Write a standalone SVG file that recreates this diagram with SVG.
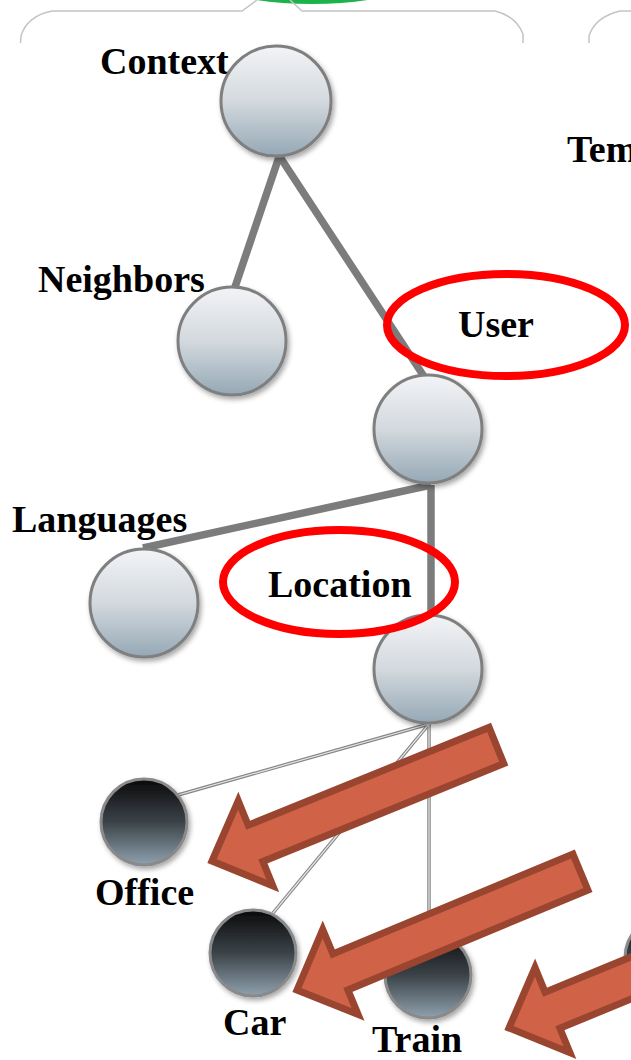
<svg xmlns="http://www.w3.org/2000/svg" width="631" height="1060" viewBox="0 0 631 1060">
  <style>
    .frame { fill: none; stroke: #c4c4c4; stroke-width: 1.5; }
    .label { font-family: "Liberation Serif", "Times New Roman", serif; font-weight: bold; font-size: 38px; fill: #000; }
    .thick { stroke: #7c7c7c; stroke-width: 7.5; stroke-linecap: butt; fill: none; }
    .thin-out { stroke: #858585; stroke-width: 3.5; fill: none; }
    .thin-in { stroke: #e6e6e6; stroke-width: 1.2; fill: none; }
    .light { fill: url(#lightGrad); stroke: #7f7f7f; stroke-width: 3; filter: url(#shadow); }
    .dark { fill: url(#darkGrad); stroke: #8a8a8a; stroke-width: 3; filter: url(#shadow); }
    .mark { fill: none; stroke: #ff0000; stroke-width: 8; }
    .arrow { fill: #d06248; stroke: #9a4530; stroke-width: 7; stroke-linejoin: miter; }
  </style>
  <defs>
    <linearGradient id="lightGrad" x1="0" y1="0" x2="0" y2="1">
      <stop offset="0" stop-color="#f3f4f6"/>
      <stop offset="0.5" stop-color="#d3d9de"/>
      <stop offset="1" stop-color="#95a8b5"/>
    </linearGradient>
    <linearGradient id="darkGrad" x1="0" y1="0" x2="0" y2="1">
      <stop offset="0" stop-color="#0a0a0a"/>
      <stop offset="0.5" stop-color="#3b4348"/>
      <stop offset="1" stop-color="#8fa1ae"/>
    </linearGradient>
    <filter id="shadow" x="-20%" y="-20%" width="150%" height="150%">
      <feDropShadow dx="2" dy="3" stdDeviation="2.5" flood-color="#000" flood-opacity="0.35"/>
    </filter>
    <!-- block arrow pointing toward the origin, body along +x -->
    <path id="blockArrow" d="M0,0 L47,-46 L47,-19.5 L307,-19.5 L307,19.5 L47,19.5 L47,46 Z"/>
  </defs>

  <!-- panel outlines -->
  <g id="panels">
    <ellipse cx="312" cy="-28" rx="110" ry="30" fill="none" stroke="#1db34a" stroke-width="4"/>
    <path class="frame" d="M20.5,43 L21,36 Q27,16 52,11 L242,11 L257,0"/>
    <path class="frame" d="M290,0 L302,11 L495,11 Q516,16 523,34 L523,43"/>
    <path class="frame" d="M589,43 L589,36 Q595,17 620,11 L631,11"/>
  </g>

  <!-- connectors -->
  <g id="connectors">
    <line class="thick" x1="279" y1="157" x2="234" y2="290"/>
    <line class="thick" x1="280" y1="157" x2="425" y2="378"/>
    <line class="thick" x1="431" y1="485" x2="143" y2="548"/>
    <line class="thick" x1="431" y1="485" x2="431" y2="617"/>
    <g>
      <line class="thin-out" x1="429" y1="724" x2="178" y2="795"/>
      <line class="thin-out" x1="429" y1="724" x2="273" y2="913"/>
      <line class="thin-out" x1="429" y1="724" x2="429" y2="935"/>
      <line class="thin-in" x1="429" y1="724" x2="178" y2="795"/>
      <line class="thin-in" x1="429" y1="724" x2="273" y2="913"/>
      <line class="thin-in" x1="429" y1="724" x2="429" y2="935"/>
    </g>
  </g>

  <!-- nodes -->
  <g id="node-context">
    <text class="label" x="100" y="74">Context</text>
    <circle class="light" cx="276" cy="101" r="55"/>
  </g>
  <g id="node-temporal">
    <text class="label" x="567" y="162">Tem</text>
  </g>
  <g id="node-neighbors">
    <text class="label" x="38" y="292">Neighbors</text>
    <circle class="light" cx="232" cy="341" r="54"/>
  </g>
  <g id="node-user">
    <text class="label" x="458" y="337">User</text>
    <circle class="light" cx="428" cy="429" r="54"/>
  </g>
  <g id="node-languages">
    <text class="label" x="12" y="532">Languages</text>
    <circle class="light" cx="144" cy="603" r="54"/>
  </g>
  <g id="node-location">
    <text class="label" x="268" y="597">Location</text>
    <circle class="light" cx="428" cy="669" r="54"/>
  </g>
  <g id="node-office">
    <circle class="dark" cx="144" cy="822" r="43"/>
    <text class="label" x="95" y="905">Office</text>
  </g>
  <g id="node-car">
    <circle class="dark" cx="253" cy="953" r="43"/>
    <text class="label" x="223" y="1035">Car</text>
  </g>
  <g id="node-train">
    <circle class="dark" cx="428" cy="975" r="43"/>
    <text class="label" x="372" y="1052">Train</text>
  </g>
  <g id="node-edge-right">
    <circle class="dark" cx="668" cy="958" r="43"/>
  </g>

  <!-- highlight rings -->
  <g id="highlights">
    <ellipse class="mark" cx="506" cy="325" rx="119" ry="51"/>
    <ellipse class="mark" cx="339" cy="582" rx="116" ry="52"/>
  </g>

  <!-- pointer arrows -->
  <g id="pointers">
    <use href="#blockArrow" class="arrow" transform="translate(212,861) rotate(-22.1)"/>
    <use href="#blockArrow" class="arrow" transform="translate(297,990) rotate(-22.6)"/>
    <use href="#blockArrow" class="arrow" transform="translate(509,1028) rotate(-22.3)"/>
  </g>
</svg>
